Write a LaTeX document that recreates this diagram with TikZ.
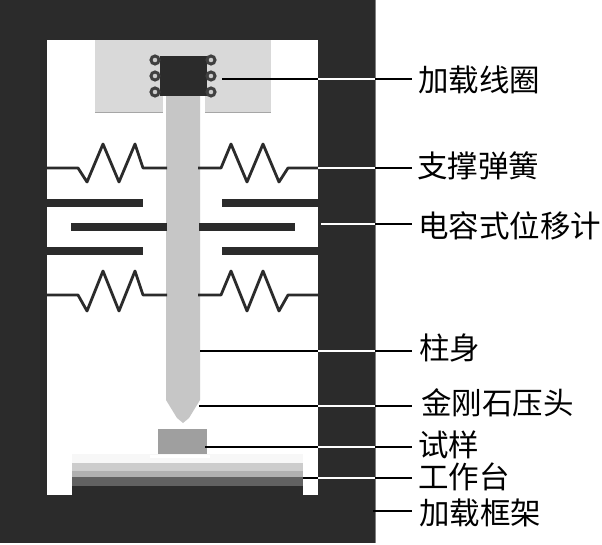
\documentclass[tikz,border=0pt]{standalone}
\usepackage{fontspec}
\newfontfamily\cjk{Noto Sans CJK SC}
\definecolor{framec}{HTML}{2B2B2B}
\tikzset{
  lab/.style={anchor=west,inner sep=0pt,yshift=-1.5pt,font=\cjk\fontsize{30.5}{30.5}\selectfont,text height=25pt,text depth=5pt,text=black},
  spr/.style={draw=framec,line width=2.8pt,line join=round},
  bar/.style={fill=framec,draw=none},
  lblack/.style={draw=black,line width=2pt},
  lwhite/.style={draw=white,line width=2pt},
  ringc/.style={circle,draw=framec!90,fill=gray!40,line width=3pt,minimum size=8pt,inner sep=0pt},
}
\begin{document}
\begin{tikzpicture}[x=1pt,y=-1pt]
\useasboundingbox (0,0) rectangle (602,545);
% frame
\fill[white] (0,0) rectangle (602,545);
\fill[framec] (0,0) rectangle (375,543);
\draw[gray,line width=1pt] (375.5,0) -- (375.5,543);
\fill[white] (47,40) rectangle (318,495);
% coil housing
\fill[gray!30] (95,40) rectangle (271,112);
\draw[gray!70,line width=1pt] (95,112.5) -- (163,112.5) (205,112.5) -- (271,112.5);
\fill[white] (163,96) rectangle (205,114);
% column with tip
\fill[gray!45] (166,96) -- (200,96) -- (200,400) -- (189,418) -- (183,423) -- (177,418) -- (166,400) -- cycle;
% coil
\node[fill=framec,draw=none,minimum width=47pt,minimum height=40pt,inner sep=0pt] (coil) at (183.5,76) {};
\foreach \n/\x/\y in {a/155/60,b/155/76,c/155/92,d/211/60,e/211/76,f/211/92}
  \node[ringc] (ring\n) at (\x,\y) {};
% springs
\draw[spr] (47,168) -- (78,168) -- (87,182) -- (103,144) -- (119,182) -- (135,144) -- (143,168) -- (167,168);
\draw[spr] (198,168) -- (221,168) -- (231,144) -- (247,182) -- (263,144) -- (279,182) -- (288,168) -- (318,168);
\draw[spr] (47,295) -- (78,295) -- (87,311) -- (103,271) -- (119,311) -- (135,271) -- (143,295) -- (167,295);
\draw[spr] (198,295) -- (221,295) -- (231,271) -- (247,311) -- (263,271) -- (279,311) -- (288,295) -- (318,295);
% capacitor plates
\fill[bar] (47,199) rectangle (143,207);
\fill[bar] (222,199) rectangle (318,207);
\fill[bar] (71,223) rectangle (167,231);
\fill[bar] (199,223) rectangle (295,231);
\fill[bar] (47,247) rectangle (143,255);
\fill[bar] (222,247) rectangle (318,255);
\fill[framec] (318,215) rectangle (322,233);
% specimen
\fill[gray!75] (158,429) rectangle (207,455);
% work table
\fill[gray!6] (72,454) rectangle (303,463);
\fill[white] (150,455) rectangle (210,458);
\fill[gray!40] (72,463) rectangle (303,471);
\fill[gray!62] (72,471) rectangle (303,477);
\fill[black!62] (72,477) rectangle (303,486);
\fill[framec] (72,486) rectangle (303,496);
% labels
\node[lab] (l1) at (418,80) {加载线圈};
\node[lab] (l2) at (417,166) {支撑弹簧};
\node[lab] (l3) at (418,226) {电容式位移计};
\node[lab] (l4) at (419,348) {柱身};
\node[lab] (l5) at (421,403) {金刚石压头};
\node[lab] (l6) at (418,445) {试样};
\node[lab] (l7) at (418,477) {工作台};
\node[lab] (l8) at (419,513) {加载框架};
% leader anchor points
\foreach \n/\xs/\xa/\y in {1/222/318/79,4/200/318/351,5/199/318/406,6/205/318/447}{
  \coordinate (s\n) at (\xs,\y);
  \coordinate (a\n) at (\xa,\y);
}
\coordinate (a2) at (318,168);
\coordinate (a3) at (321,224);
\foreach \n/\y in {1/79,2/168,3/224,4/351,5/406,6/447}{
  \coordinate (b\n) at (375,\y);
  \coordinate (e\n) at (412,\y);
}
\coordinate (s7) at (303,478);
\coordinate (a7) at (318,478);
\coordinate (b7) at (375,478);
\coordinate (e7) at (412,478);
\coordinate (b8) at (373,511);
\coordinate (e8) at (412,511);
% leaders
\foreach \n in {1,4,5,6}{
  \draw[lblack] (s\n) -- (a\n);
}
\draw[lblack,line width=1.2pt] (s7) -- (a7);
\foreach \n in {1,2,3,4,5,6}{
  \draw[lwhite] (a\n) -- (b\n);
  \draw[lblack] (b\n) -- (e\n);
}
\draw[lwhite,line width=1.2pt] (a7) -- (b7);
\draw[lblack,line width=1.2pt] (b7) -- (e7);
\draw[lblack] (b8) -- (e8);
\end{tikzpicture}
\end{document}
